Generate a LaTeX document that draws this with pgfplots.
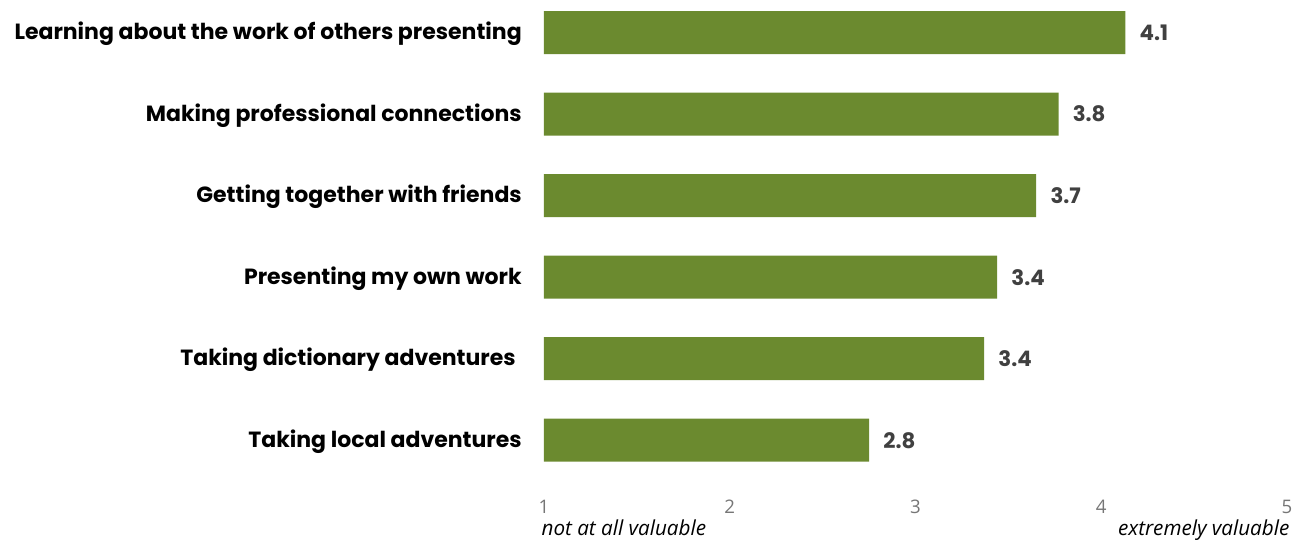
\documentclass[border=0pt]{standalone}
\usepackage{pgfplots}
\pgfplotsset{compat=1.18}
\usepackage{pgfplotstable}
\usepackage{fontspec}
\setmainfont{Poppins}
\newfontfamily\osans{Open Sans}
\definecolor{bargreen}{HTML}{6B8A2F}
\definecolor{valgray}{HTML}{404040}
\definecolor{tickgray}{HTML}{767676}
\pgfplotstableread{
y x lab
0 4.13 4.1
1 3.77 3.8
2 3.65 3.7
3 3.44 3.4
4 3.37 3.4
5 2.75 2.8
}\datatab
\begin{document}
\begin{tikzpicture}
\useasboundingbox (0,0) rectangle (975pt,405pt);
\begin{axis}[
  at={(408pt,44.25pt)}, anchor=south west,
  scale only axis,
  width=557.25pt, height=360.75pt,
  xmin=1, xmax=5, ymin=-0.4, ymax=5.5,
  y dir=reverse,
  xbar, bar width=32.25pt,
  axis line style={draw=none},
  major tick length=0pt,
  xtick={1,2,3,4,5},
  ytick={0,1,2,3,4,5},
  yticklabels={Learning about the work of others presenting, Making professional connections, Getting together with friends, Presenting my own work, {Taking dictionary adventures\hspace*{4.5pt}}, Taking local adventures},
  yticklabel style={font=\fontsize{16.5pt}{18pt}\selectfont\bfseries, text=black, anchor=east, inner sep=0pt, xshift=-16.5pt, yshift=-1pt},
  xticklabel style={font=\osans\fontsize{14pt}{16pt}\selectfont, text=tickgray, anchor=north, inner sep=0pt, yshift=-14pt},
  /pgf/number format/assume math mode=true,
  nodes near coords,
  point meta=explicit symbolic,
  nodes near coords style={font=\fontsize{16pt}{18pt}\selectfont\bfseries, text=valgray, anchor=west, inner sep=0pt, xshift=10.5pt},
  after end axis/.code={
    \node[anchor=north west, inner sep=0pt, font=\osans\fontsize{15.5pt}{17pt}\selectfont\itshape, text=black] at (rel axis cs:0,0) [xshift=-2pt, yshift=-29pt] {not at all valuable};
    \node[anchor=north east, inner sep=0pt, font=\osans\fontsize{15.5pt}{17pt}\selectfont\itshape, text=black] at (rel axis cs:1,0) [xshift=2pt, yshift=-29pt] {extremely valuable};
  }
]
\addplot[fill=bargreen, draw=none] table[x=x, y=y, meta=lab] {\datatab};
\end{axis}
\end{tikzpicture}
\end{document}
